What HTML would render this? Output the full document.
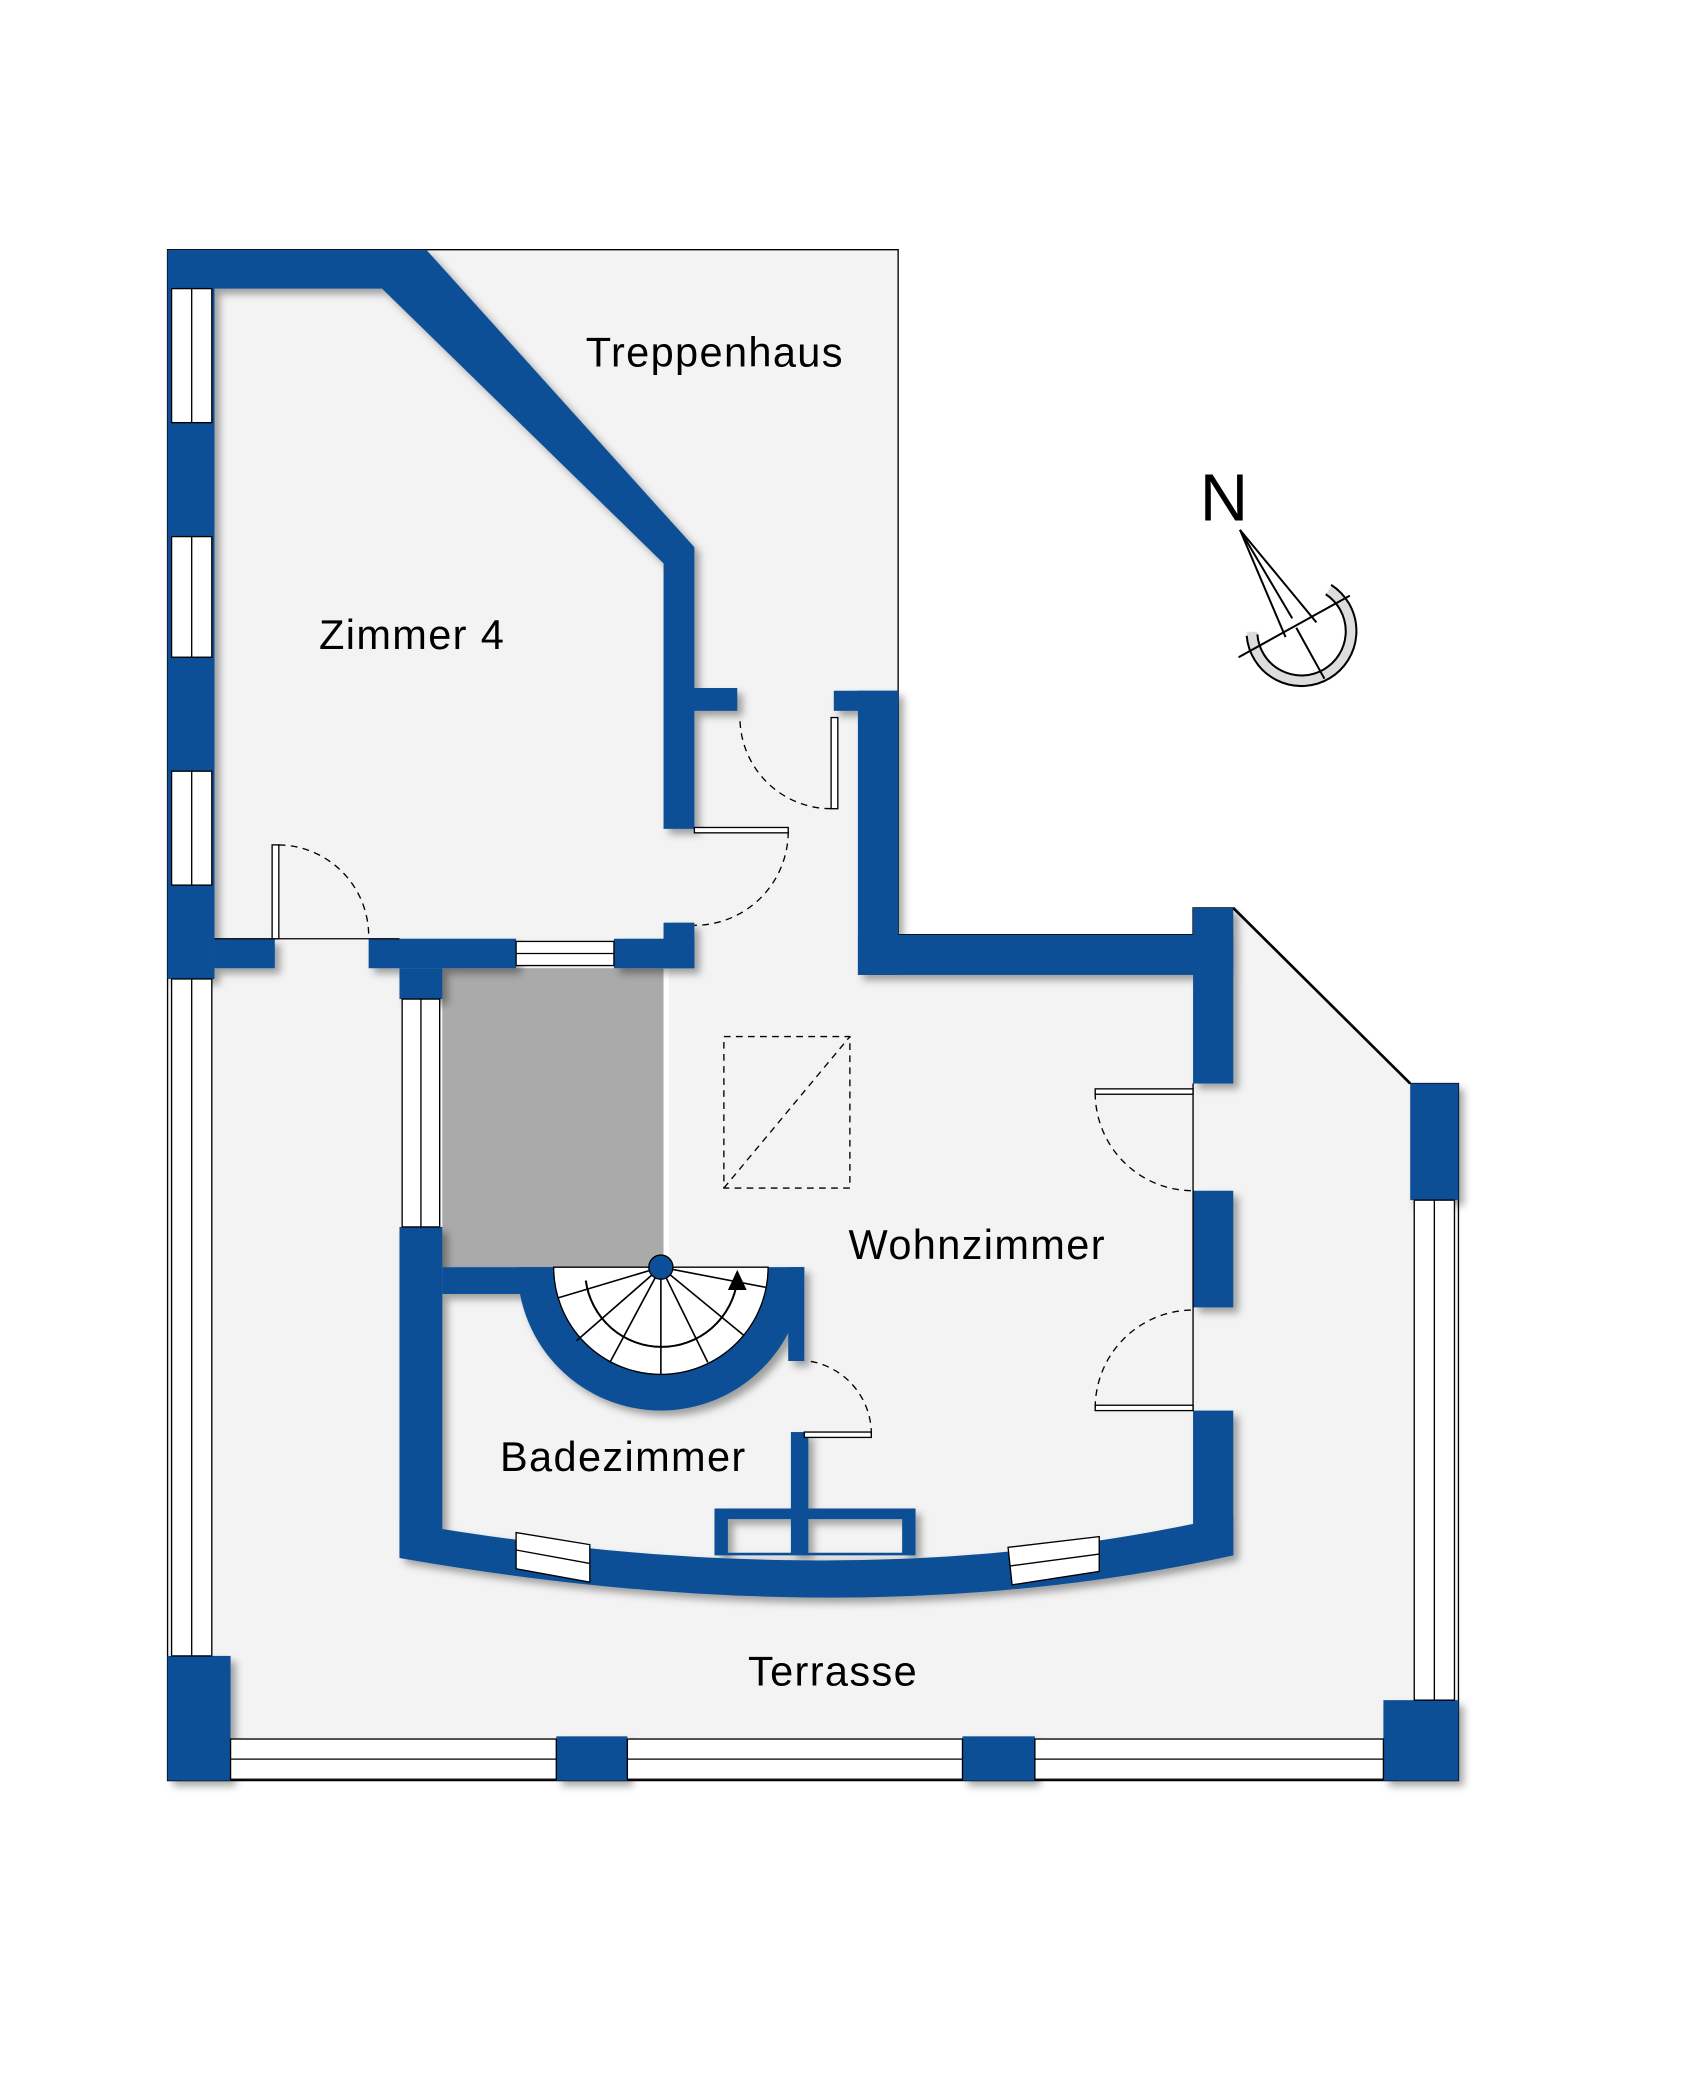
<!DOCTYPE html>
<html><head><meta charset="utf-8"><style>html,body{margin:0;padding:0;background:#fff}svg{display:block}</style></head>
<body>
<svg width="1681" height="2100" viewBox="0 0 1254 1566" xmlns="http://www.w3.org/2000/svg">
<defs><filter id="sh" x="-5%" y="-5%" width="110%" height="110%"><feDropShadow dx="4" dy="4" stdDeviation="3" flood-color="#000" flood-opacity="0.35"/></filter></defs>
<rect width="1254" height="1566" fill="#fff"/>
<polygon points="125,186 670,186 670,697 890,697 890,677 920,677 1052,808 1088,808 1088,1328 125,1328" fill="#f3f3f3" stroke="#000" stroke-width="1"/>
<rect x="330" y="722" width="165" height="223" fill="#aaa"/>
<line x1="497" y1="722" x2="497" y2="945" stroke="#fff" stroke-width="4"/>
<g fill="#0a4f97" filter="url(#sh)">
<polygon points="125,186 318,186 518,408 518,513 550,513 550,530 518,530 518,618 495,618 495,420 285,215 160,215 160,730 125,730"/>
<rect x="125" y="1235" width="47" height="93"/>
<rect x="415" y="1295" width="53" height="33"/>
<rect x="718" y="1295" width="54" height="33"/>
<rect x="1032" y="1268" width="56" height="60"/>
<rect x="1052" y="808" width="36" height="87"/>
<rect x="160" y="700" width="45" height="22"/>
<rect x="275" y="700" width="110" height="22"/>
<rect x="458" y="700" width="60" height="22"/>
<rect x="495" y="688" width="23" height="34"/>
<rect x="298" y="722" width="32" height="23"/>
<rect x="298" y="915" width="32" height="245"/>
<rect x="330" y="945" width="85" height="20"/>
<path d="M386,945 A107,107 0 0 0 600,945 L573,945 A80,80 0 0 1 413,945 Z"/>
<rect x="588" y="945" width="12" height="70"/>
<rect x="622" y="515" width="48" height="15"/>
<rect x="640" y="515" width="30" height="212"/>
<rect x="640" y="697" width="280" height="30"/>
<rect x="890" y="677" width="30" height="131"/>
<rect x="890" y="888" width="30" height="87"/>
<rect x="890" y="1052" width="30" height="108"/>
<path d="M298,1135 Q640,1195 920,1130 L920,1160 Q640,1222 298,1162 Z"/>
<path d="M533,1125 H683 V1160 H533 Z M543,1133 V1158 H590 V1133 Z M603,1133 V1158 H673 V1133 Z" fill-rule="evenodd"/>
<rect x="590" y="1068" width="13" height="60"/>
</g>
<path d="M413,945 A80,80 0 0 0 573,945 Z" fill="#fff" stroke="#000" stroke-width="1"/>
<g stroke="#000" stroke-width="1.2">
<line x1="493" y1="945" x2="416" y2="968"/><line x1="493" y1="945" x2="430" y2="1000"/><line x1="493" y1="945" x2="455" y2="1016"/><line x1="493" y1="945" x2="493" y2="1025"/><line x1="493" y1="945" x2="528" y2="1016"/><line x1="493" y1="945" x2="555" y2="996"/><line x1="493" y1="945" x2="571" y2="960"/>
</g>
<path d="M437,955 A57,57 0 0 0 550,955" fill="none" stroke="#000" stroke-width="1.5"/>
<polygon points="550,947 543,962 557,962" fill="#000"/>
<circle cx="493" cy="945" r="9" fill="#0a4f97" stroke="#000"/>
<g fill="#fff" stroke="#000" stroke-width="1">
<rect x="128" y="215" width="30" height="100"/><rect x="128" y="400" width="30" height="90"/><rect x="128" y="575" width="30" height="85"/>
<rect x="128" y="730" width="30" height="505"/>
<rect x="172" y="1297" width="243" height="30"/><rect x="468" y="1297" width="250" height="30"/><rect x="772" y="1297" width="260" height="30"/>
<rect x="1055" y="895" width="30" height="373"/>
<rect x="385" y="702" width="73" height="18"/>
<rect x="300" y="745" width="28" height="170"/>
<polygon points="385,1143 440,1152 440,1180 385,1170"/><polygon points="752,1154 820,1146 820,1172 755,1182"/>
</g>
<g stroke="#000" stroke-width="1">
<line x1="143" y1="215" x2="143" y2="315"/><line x1="143" y1="400" x2="143" y2="490"/><line x1="143" y1="575" x2="143" y2="660"/><line x1="143" y1="730" x2="143" y2="1235"/>
<line x1="172" y1="1312" x2="415" y2="1312"/><line x1="468" y1="1312" x2="718" y2="1312"/><line x1="772" y1="1312" x2="1032" y2="1312"/>
<line x1="1070" y1="895" x2="1070" y2="1268"/><line x1="385" y1="711" x2="458" y2="711"/><line x1="314" y1="745" x2="314" y2="915"/>
<line x1="385" y1="1156" x2="440" y2="1166"/><line x1="753" y1="1168" x2="820" y2="1159"/>
<line x1="920" y1="677" x2="1052" y2="808" stroke-width="2"/>
<line x1="890" y1="808" x2="890" y2="1052"/>
<line x1="160" y1="700" x2="298" y2="700"/>
</g>
<g fill="#fff" stroke="#000" stroke-width="1">
<rect x="203" y="630" width="5" height="70"/><rect x="518" y="617" width="70" height="4"/><rect x="620" y="535" width="5" height="68"/>
<rect x="817" y="812" width="73" height="4"/><rect x="817" y="1048" width="73" height="4"/><rect x="600" y="1068" width="50" height="4"/>
</g>
<g fill="none" stroke="#000" stroke-width="1" stroke-dasharray="5,4">
<path d="M208,630 A68,68 0 0 1 275,700"/><path d="M588,620 A70,70 0 0 1 518,690"/><path d="M620,603 A68,68 0 0 1 552,535"/>
<path d="M817,815 A73,73 0 0 0 890,888"/><path d="M817,1050 A73,73 0 0 1 890,977"/><path d="M650,1070 A55,55 0 0 0 603,1015"/>
</g>
<rect x="540" y="773" width="94" height="113" fill="none" stroke="#000" stroke-dasharray="5,4"/>
<line x1="540" y1="886" x2="634" y2="773" stroke="#000" stroke-dasharray="5,4"/>
<g fill="none" stroke="#000" stroke-width="1.5">
<path d="M934,471 A37,37 0 1 0 991,440" stroke-width="8" stroke="#ddd"/>
<path d="M930,474 A41,41 0 1 0 993,436"/><path d="M938,473 A33,33 0 1 0 989,443"/>
<line x1="924" y1="490" x2="1007" y2="444"/>
<line x1="925" y1="395" x2="959" y2="475"/><line x1="925" y1="395" x2="964" y2="461"/><line x1="925" y1="395" x2="982" y2="464"/>
<line x1="967" y1="468" x2="988" y2="506"/>
</g>
<g font-family="'Liberation Sans',sans-serif" fill="#000" font-size="31" letter-spacing="1">
<text x="895" y="388" font-size="50" letter-spacing="0">N</text>
<text x="437" y="273">Treppenhaus</text>
<text x="238" y="484">Zimmer 4</text>
<text x="633" y="939">Wohnzimmer</text>
<text x="373" y="1097">Badezimmer</text>
<text x="558" y="1257">Terrasse</text>
</g>
</svg>
</body></html>
